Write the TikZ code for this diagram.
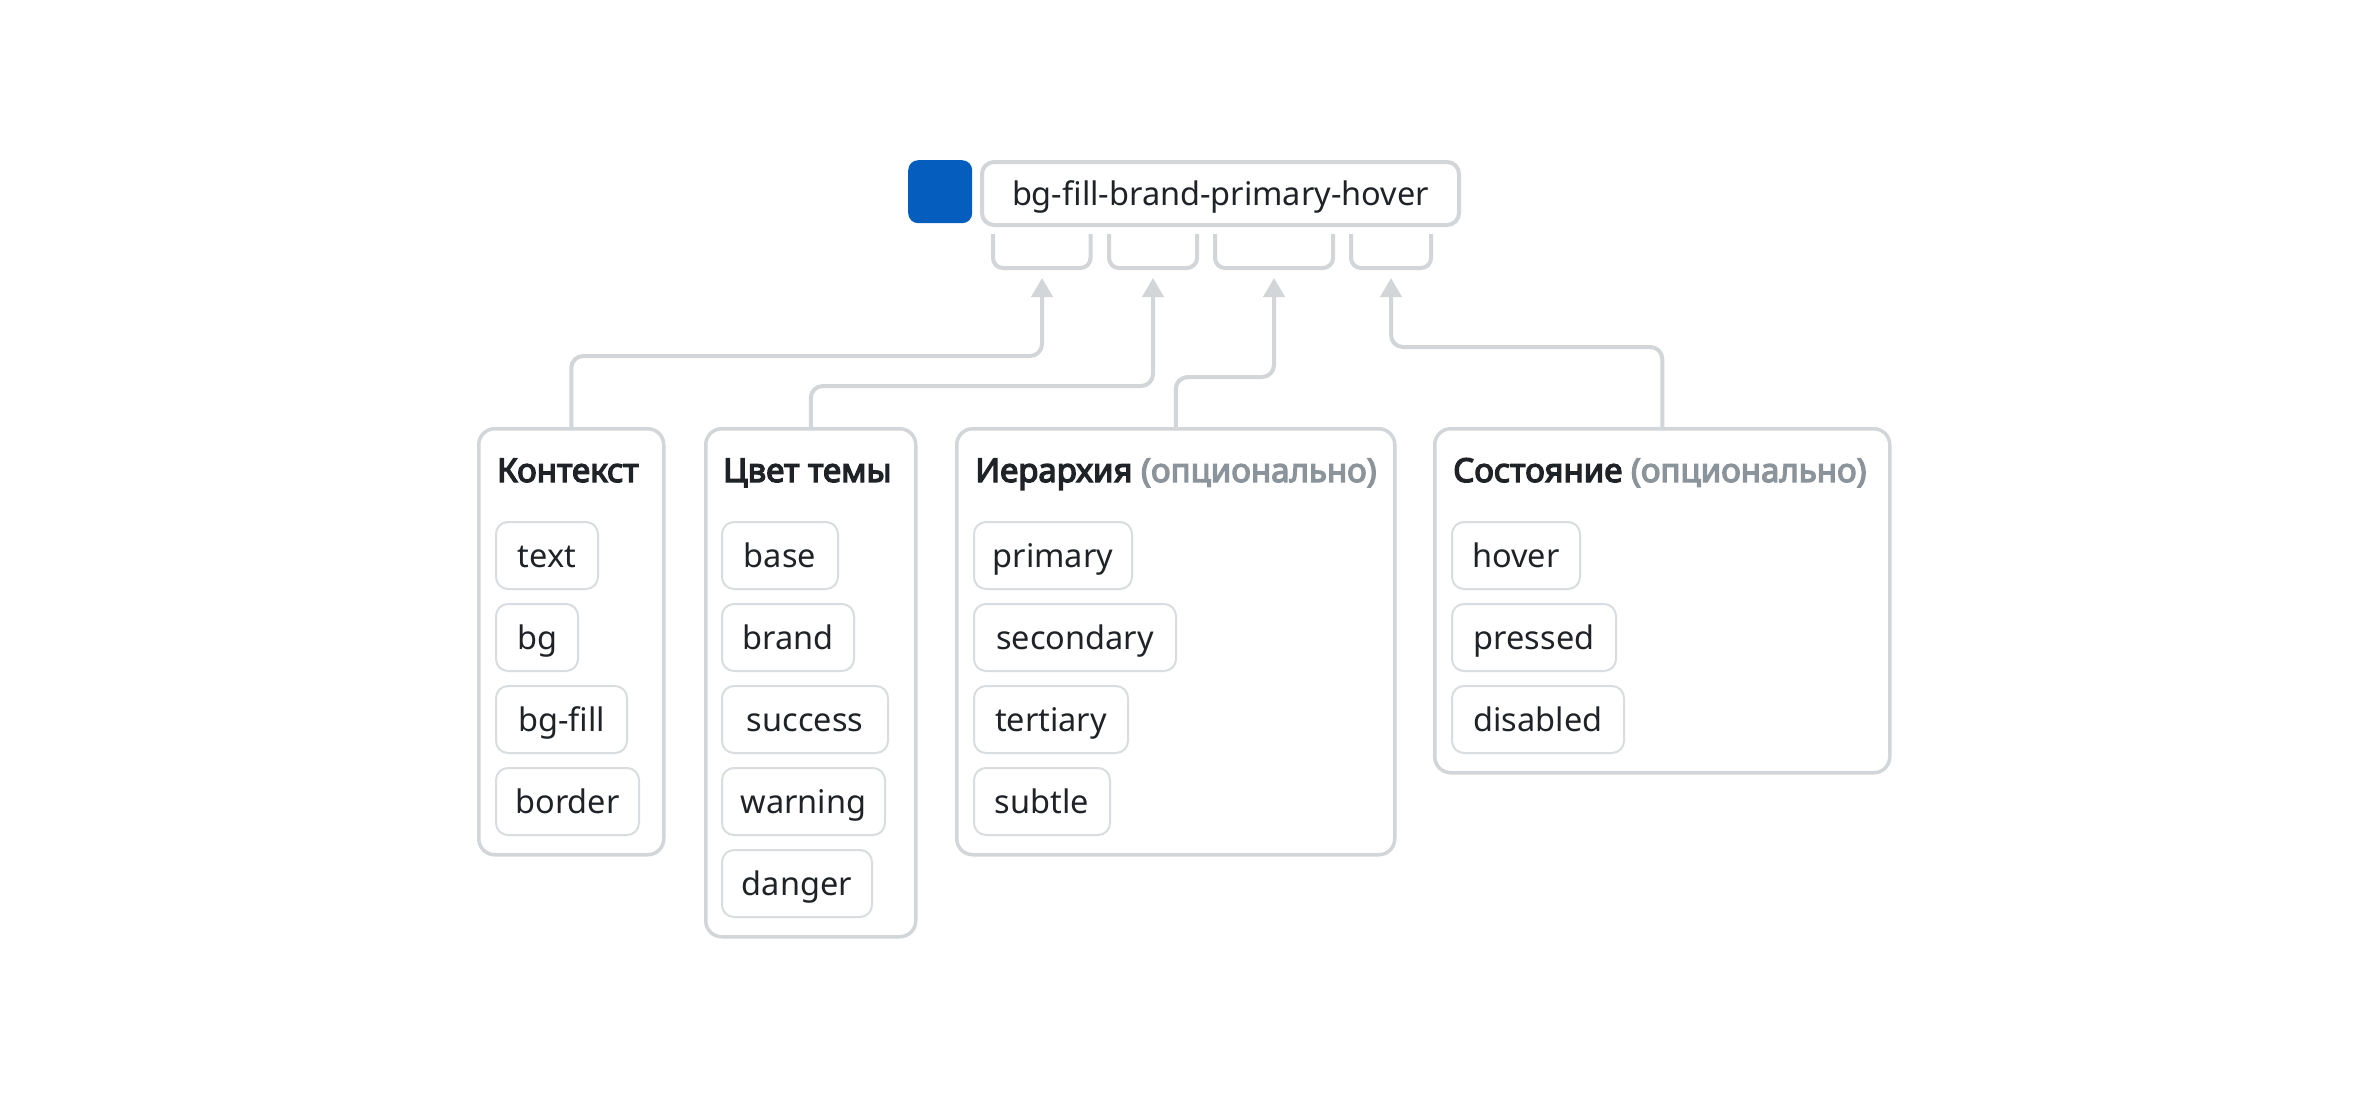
\documentclass[tikz,border=0pt]{standalone}
\usepackage{fontspec}
\setmainfont{Noto Sans}[AutoFakeBold=4]
\usetikzlibrary{arrows.meta}
\definecolor{linegray}{HTML}{D2D6D9}
\definecolor{chipgray}{HTML}{DADDE0}
\definecolor{ink}{HTML}{1F2328}
\definecolor{muted}{HTML}{8C949B}
\definecolor{brandblue}{HTML}{055EBE}
\begin{document}
\begin{tikzpicture}[x=1pt,y=-1pt,
 grp/.style={draw=linegray, line width=3.5pt, rounded corners=16pt, fill=white, anchor=north west, inner sep=0pt},
 chip/.style={draw=chipgray, line width=2pt, rounded corners=12pt, anchor=north west, minimum height=67pt, text height=24pt, text depth=0pt, inner xsep=0pt, font=\fontsize{32.5}{38}\selectfont, text=ink},
 ttl/.style={anchor=base west, inner sep=0pt, font=\fontsize{33}{37}\selectfont\bfseries, text=ink},
 conn/.style={draw=linegray, line width=4pt, rounded corners=12pt, -{Triangle[width=21pt,length=19pt]}},
 brk/.style={draw=linegray, line width=4pt, rounded corners=10pt},
]
\path[use as bounding box, fill=white] (0,0) rectangle (2366,1092);

% token
\node[fill=brandblue, rounded corners=10pt, anchor=north west, minimum width=64pt, minimum height=63pt, inner sep=0pt] (sw) at (908,160) {};
\node[draw=linegray, line width=4pt, rounded corners=12pt, anchor=north west, minimum width=477pt, minimum height=63pt, text height=24pt, text depth=0pt, inner sep=0pt, font=\fontsize{32.5}{38}\selectfont, text=ink] (name) at (980,160) {bg-fill-brand-primary-hover};

% brackets
\draw[brk] (993,234) -- (993,268) -- (1090.5,268) -- (1090.5,234);
\draw[brk] (1109,234) -- (1109,268) -- (1197,268) -- (1197,234);
\draw[brk] (1215,234) -- (1215,268) -- (1333,268) -- (1333,234);
\draw[brk] (1351,234) -- (1351,268) -- (1431,268) -- (1431,234);
\coordinate (t1) at (1042,278);
\coordinate (t2) at (1153,278);
\coordinate (t3) at (1274,278);
\coordinate (t4) at (1391,278);

% group boxes
\node[grp, minimum width=185pt, minimum height=426pt] (ctx) at (477,427) {};
\node[grp, minimum width=210pt, minimum height=508pt] (clr) at (704,427) {};
\node[grp, minimum width=438pt, minimum height=426pt] (hier) at (955,427) {};
\node[grp, minimum width=455pt, minimum height=344pt] (st) at (1433,427) {};

% titles
\node[ttl] (ctxT) at (497,482) {Контекст};
\node[ttl] (clrT) at (723,482) {Цвет темы};
\node[ttl] (hierT) at (975,482) {Иерархия \textcolor{muted}{(опционально)}};
\node[ttl] (stT) at (1453,482) {Состояние \textcolor{muted}{(опционально)}};

% chips: Контекст
\node[chip, minimum width=102pt] (c1) at (495,521) {text};
\node[chip, minimum width=82pt]  (c2) at (495,603) {bg};
\node[chip, minimum width=131pt] (c3) at (495,685) {bg-fill};
\node[chip, minimum width=143pt] (c4) at (495,767) {border};
% chips: Цвет темы
\node[chip, minimum width=116pt] (k1) at (721,521) {base};
\node[chip, minimum width=132pt] (k2) at (721,603) {brand};
\node[chip, minimum width=166pt] (k3) at (721,685) {success};
\node[chip, minimum width=163pt] (k4) at (721,767) {warning};
\node[chip, minimum width=150pt] (k5) at (721,849) {danger};
% chips: Иерархия
\node[chip, minimum width=158pt] (h1) at (973,521) {primary};
\node[chip, minimum width=202pt] (h2) at (973,603) {secondary};
\node[chip, minimum width=154pt] (h3) at (973,685) {tertiary};
\node[chip, minimum width=136pt] (h4) at (973,767) {subtle};
% chips: Состояние
\node[chip, minimum width=128pt] (s1) at (1451,521) {hover};
\node[chip, minimum width=164pt] (s2) at (1451,603) {pressed};
\node[chip, minimum width=172pt] (s3) at (1451,685) {disabled};

% connectors
\draw[conn] (ctx.north) -- ++(0,-71) -| (t1);
\draw[conn] (clr.north) -- ++(0,-41) -| (t2);
\draw[conn] (hier.north) -- ++(0,-50) -| (t3);
\draw[conn] (st.north) -- ++(0,-80) -| (t4);
\end{tikzpicture}
\end{document}
